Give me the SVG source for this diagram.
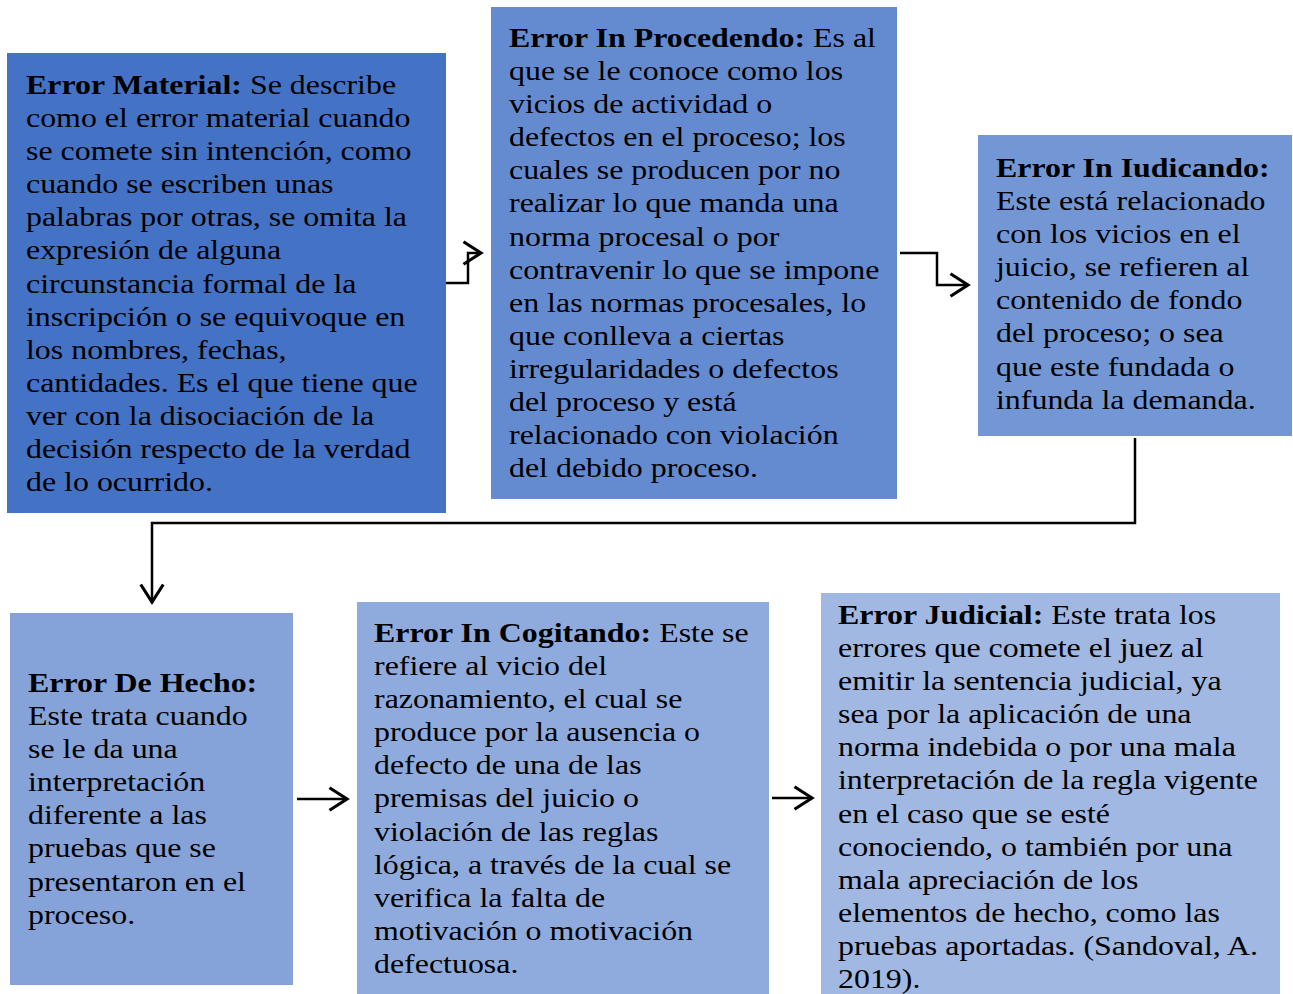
<svg xmlns="http://www.w3.org/2000/svg" width="1293" height="994" viewBox="0 0 1293 994">
<style>
text{font-family:"Liberation Serif","Times New Roman",serif;font-size:28px;fill:#000}
.b{font-weight:bold}
.conn{fill:none;stroke:#000;stroke-width:2.5}
</style>
<defs>
<marker id="ah" markerUnits="userSpaceOnUse" markerWidth="30" markerHeight="30" viewBox="-16 -12 20 24" refX="0" refY="0" orient="auto">
<path d="M-14,-9 L0,0 L-14,9" fill="none" stroke="#000" stroke-width="2.5"/>
</marker>
</defs>
<rect width="1293" height="994" fill="#fff"/>
<g id="connectors">
<path class="conn" d="M446,283 H468 V253 H481" marker-end="url(#ah)"/>
<path class="conn" d="M900,253 H937 V285 H968" marker-end="url(#ah)"/>
<path class="conn" d="M1135,438 V523 H152 V602" marker-end="url(#ah)"/>
<path class="conn" d="M297,799 H347" marker-end="url(#ah)"/>
<path class="conn" d="M772,798 H812" marker-end="url(#ah)"/>
</g>
<g id="n1">
<rect x="7" y="53" width="439" height="460" fill="#4472C4"/>
<g transform="translate(26,0) scale(1.14,1)">
<text x="0" y="94"><tspan class="b">Error Material:</tspan> Se describe</text>
<text x="0" y="127.1">como el error material cuando</text>
<text x="0" y="160.2">se comete sin intención, como</text>
<text x="0" y="193.3">cuando se escriben unas</text>
<text x="0" y="226.4">palabras por otras, se omita la</text>
<text x="0" y="259.5">expresión de alguna</text>
<text x="0" y="292.6">circunstancia formal de la</text>
<text x="0" y="325.7">inscripción o se equivoque en</text>
<text x="0" y="358.8">los nombres, fechas,</text>
<text x="0" y="391.9">cantidades. Es el que tiene que</text>
<text x="0" y="425">ver con la disociación de la</text>
<text x="0" y="458.1">decisión respecto de la verdad</text>
<text x="0" y="491.2">de lo ocurrido.</text>
</g>
</g>
<g id="n2">
<rect x="491" y="7" width="406" height="492" fill="#648AD0"/>
<g transform="translate(509,0) scale(1.14,1)">
<text x="0" y="47"><tspan class="b">Error In Procedendo:</tspan> Es al</text>
<text x="0" y="80.1">que se le conoce como los</text>
<text x="0" y="113.2">vicios de actividad o</text>
<text x="0" y="146.3">defectos en el proceso; los</text>
<text x="0" y="179.4">cuales se producen por no</text>
<text x="0" y="212.5">realizar lo que manda una</text>
<text x="0" y="245.6">norma procesal o por</text>
<text x="0" y="278.7">contravenir lo que se impone</text>
<text x="0" y="311.8">en las normas procesales, lo</text>
<text x="0" y="344.9">que conlleva a ciertas</text>
<text x="0" y="378">irregularidades o defectos</text>
<text x="0" y="411.1">del proceso y está</text>
<text x="0" y="444.2">relacionado con violación</text>
<text x="0" y="477.3">del debido proceso.</text>
</g>
</g>
<g id="n3">
<rect x="978" y="135" width="314" height="301" fill="#7397D5"/>
<g transform="translate(996,0) scale(1.14,1)">
<text x="0" y="177" class="b">Error In Iudicando:</text>
<text x="0" y="210.1">Este está relacionado</text>
<text x="0" y="243.2">con los vicios en el</text>
<text x="0" y="276.3">juicio, se refieren al</text>
<text x="0" y="309.4">contenido de fondo</text>
<text x="0" y="342.5">del proceso; o sea</text>
<text x="0" y="375.6">que este fundada o</text>
<text x="0" y="408.7">infunda la demanda.</text>
</g>
</g>
<g id="n4">
<rect x="10" y="613" width="283" height="372" fill="#85A3D9"/>
<g transform="translate(28,0) scale(1.14,1)">
<text x="0" y="692" class="b">Error De Hecho:</text>
<text x="0" y="725.1">Este trata cuando</text>
<text x="0" y="758.2">se le da una</text>
<text x="0" y="791.3">interpretación</text>
<text x="0" y="824.4">diferente a las</text>
<text x="0" y="857.5">pruebas que se</text>
<text x="0" y="890.6">presentaron en el</text>
<text x="0" y="923.7">proceso.</text>
</g>
</g>
<g id="n5">
<rect x="357" y="602" width="412" height="392" fill="#8FABDD"/>
<g transform="translate(374,0) scale(1.14,1)">
<text x="0" y="642"><tspan class="b">Error In Cogitando:</tspan> Este se</text>
<text x="0" y="675.1">refiere al vicio del</text>
<text x="0" y="708.2">razonamiento, el cual se</text>
<text x="0" y="741.3">produce por la ausencia o</text>
<text x="0" y="774.4">defecto de una de las</text>
<text x="0" y="807.5">premisas del juicio o</text>
<text x="0" y="840.6">violación de las reglas</text>
<text x="0" y="873.7">lógica, a través de la cual se</text>
<text x="0" y="906.8">verifica la falta de</text>
<text x="0" y="939.9">motivación o motivación</text>
<text x="0" y="973">defectuosa.</text>
</g>
</g>
<g id="n6">
<rect x="821" y="593" width="459" height="401" fill="#A0B8E2"/>
<g transform="translate(838,0) scale(1.14,1)">
<text x="0" y="624"><tspan class="b">Error Judicial:</tspan> Este trata los</text>
<text x="0" y="657.1">errores que comete el juez al</text>
<text x="0" y="690.2">emitir la sentencia judicial, ya</text>
<text x="0" y="723.3">sea por la aplicación de una</text>
<text x="0" y="756.4">norma indebida o por una mala</text>
<text x="0" y="789.5">interpretación de la regla vigente</text>
<text x="0" y="822.6">en el caso que se esté</text>
<text x="0" y="855.7">conociendo, o también por una</text>
<text x="0" y="888.8">mala apreciación de los</text>
<text x="0" y="921.9">elementos de hecho, como las</text>
<text x="0" y="955">pruebas aportadas. (Sandoval, A.</text>
<text x="0" y="988.1">2019).</text>
</g>
</g>
</svg>
